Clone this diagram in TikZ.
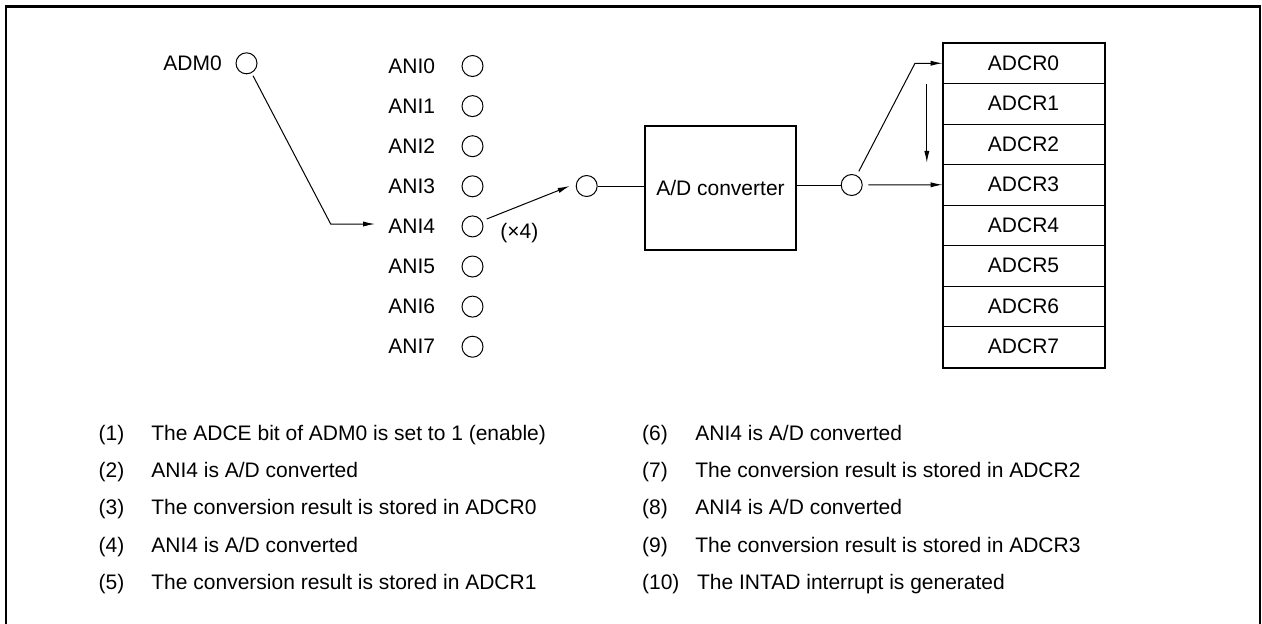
\documentclass[tikz,border=0pt]{standalone}
\usepackage{fontspec}
\setmainfont{Liberation Sans}
\usetikzlibrary{arrows.meta}
\begin{document}
\begin{tikzpicture}[x=0.5pt,y=-0.5pt,
  font=\fontsize{10.5}{12.6}\selectfont,
  pin/.style={circle,draw,line width=0.5pt,minimum size=10.5pt,inner sep=0pt},
  lbl/.style={inner sep=0pt,anchor=base west},
  conn/.style={line width=0.5pt},
  arr/.style={conn,-{Latex[length=6pt,width=2.6pt]}},
  adbox/.style={draw,line width=0.85pt,minimum width=75.5pt,minimum height=62pt,inner sep=0pt},
  reg/.style={draw,line width=0.5pt,minimum width=80.5pt,minimum height=20.25pt,inner sep=0pt}]
\useasboundingbox (0,0) rectangle (1262,623);
\clip (0,0) rectangle (1262,623);
% frame
\draw[line width=1.3pt] (6,660) -- (6,6.5) -- (1260,6.5) -- (1260,660);
% ADM0
\node[lbl] (adm0lbl) at (163,70) {ADM0};
\node[pin] (adm0) at (246.5,63.3) {};
% analog inputs
\foreach \i in {0,...,7}{
  \node[lbl] (anil\i) at (388,73+40.1*\i) {ANI\i};
  \node[pin] (ani\i) at (472.5,66+40.1*\i) {};
}
% ADM0 -> ANI4
\coordinate (bend1) at (330.7,224);
\coordinate (tip1) at (375,224);
\draw[arr,shorten <=7pt] (adm0.center) -- (bend1) -- (tip1);
% selector circle and converter
\node[pin] (mid) at (586.7,186) {};
\coordinate (s4) at (486.7,219);
\draw[arr] (s4) -- ([xshift=-3pt]mid.west);
\node[lbl] (x4) at (500,238) {(×4)};
\node[adbox] (adc) at (720.5,188) {A/D converter};
\draw[conn] (mid.east) -- (mid.east -| adc.west);
\node[pin] (out) at (851.7,185) {};
\draw[conn] (out.west -| adc.east) -- (out.west);
% result registers
\foreach \i in {0,...,7}{
  \node[reg] (r\i) at (1023.5,63.25+40.5*\i) {ADCR\i};
}
\draw[line width=1pt] (r0.north west) rectangle (r7.south east);
% output arrows
\coordinate (bend2) at (915,63.25);
\draw[arr,shorten <=7.7pt] (out.center) -- (bend2) -- (r0.west);
\draw[arr,shorten <=8.3pt] (out.center) -- (r3.west);
\draw[arr] ([xshift=-7.85pt]r0.south west) -- ([xshift=-7.85pt,yshift=0.6pt]r3.north west);
% captions
\foreach \n/\t [count=\k from 0] in {
  (1)/{The ADCE bit of ADM0 is set to 1 (enable)},
  (2)/{ANI4 is A/D converted},
  (3)/{The conversion result is stored in ADCR0},
  (4)/{ANI4 is A/D converted},
  (5)/{The conversion result is stored in ADCR1}}{
  \node[lbl] (cl\k) at (98.3,440+37.4*\k) {\n};
  \node[lbl] (ct\k) at (151,440+37.4*\k) {\t};
}
\foreach \n/\t [count=\k from 0] in {
  (6)/{ANI4 is A/D converted},
  (7)/{The conversion result is stored in ADCR2},
  (8)/{ANI4 is A/D converted},
  (9)/{The conversion result is stored in ADCR3}}{
  \node[lbl] (rl\k) at (641.7,440+37.4*\k) {\n};
  \node[lbl] (rt\k) at (695,440+37.4*\k) {\t};
}
\node[lbl] (rl4) at (641.7,589.6) {(10)};
\node[lbl] (rt4) at (696.7,589.6) {The INTAD interrupt is generated};
\end{tikzpicture}
\end{document}
